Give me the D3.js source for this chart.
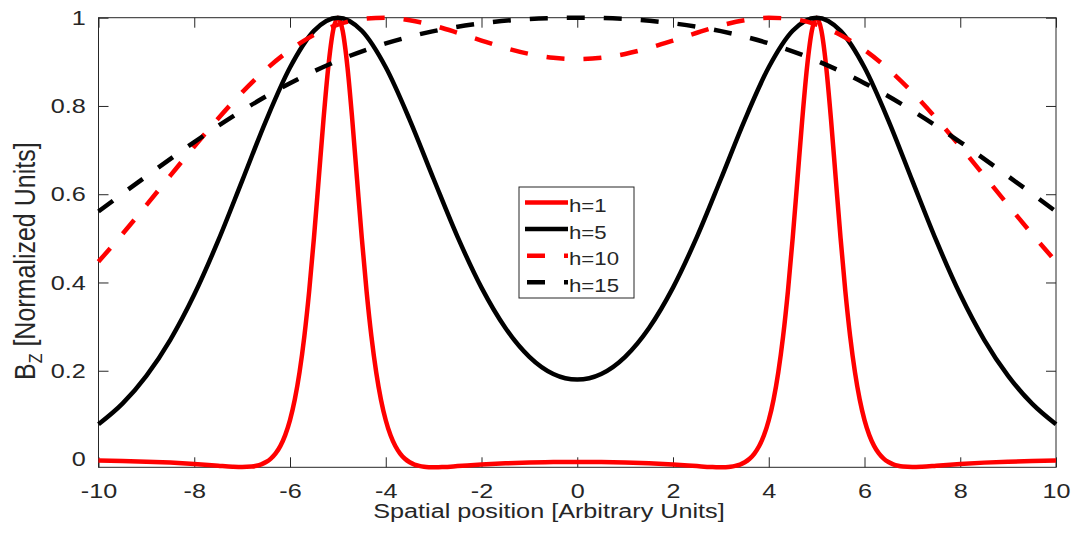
<!DOCTYPE html>
<html lang="en">
<head>
    <meta charset="UTF-8">
    <title>Bz vs spatial position</title>
    <script src="https://cdn.jsdelivr.net/npm/d3@7"></script>
    <style>
        body { margin: 0; background: #fff; }
        svg { display: block; }
        text { font-family: "Liberation Sans", Arial, Helvetica, sans-serif; fill: #262626; }
        .tick line { stroke: #262626; stroke-width: 1; }
    </style>
</head>
<body>
<script>
    // sample positions (arbitrary units)
    const xFine = [-10, -9.5, -9, -8.5, -8, -7.5, -7.2, -7, -6.8, -6.7, -6.6, -6.5, -6.4, -6.3, -6.2, -6.1,
        -6, -5.9, -5.8, -5.7, -5.6, -5.5, -5.4, -5.3, -5.2, -5.1,
        -5, -4.9, -4.8, -4.7, -4.6, -4.5, -4.4, -4.3, -4.2, -4.1,
        -4, -3.9, -3.8, -3.7, -3.6, -3.5, -3.4, -3.3, -3.2, -3.1,
        -3, -2.9, -2.8, -2.5, -2, -1.5, -1, -0.5, 0,
        0.5, 1, 1.5, 2, 2.5, 2.8, 2.9, 3, 3.1, 3.2, 3.3, 3.4, 3.5, 3.6, 3.7, 3.8, 3.9,
        4, 4.1, 4.2, 4.3, 4.4, 4.5, 4.6, 4.7, 4.8, 4.9,
        5, 5.1, 5.2, 5.3, 5.4, 5.5, 5.6, 5.7, 5.8, 5.9,
        6, 6.1, 6.2, 6.3, 6.4, 6.5, 6.6, 6.7, 6.8, 7, 7.2, 7.5, 8, 8.5, 9, 9.5, 10];
    const xHalf = [-10, -9.5, -9, -8.5, -8, -7.5, -7, -6.5, -6, -5.5, -5, -4.5, -4, -3.5, -3, -2.5, -2, -1.5, -1, -0.5,
        0, 0.5, 1, 1.5, 2, 2.5, 3, 3.5, 4, 4.5, 5, 5.5, 6, 6.5, 7, 7.5, 8, 8.5, 9, 9.5, 10];
    const xUnit = [-10, -9, -8, -7, -6, -5, -4, -3, -2, -1, 0, 1, 2, 3, 4, 5, 6, 7, 8, 9, 10];

    // normalized Bz
    const bzH1 = [-0.0035, -0.0045, -0.0061, -0.0082, -0.0113, -0.0153, -0.0175, -0.0182,
        -0.0171, -0.0152, -0.0120, -0.0069, 0.0010, 0.0127, 0.0298, 0.0541,
        0.0881, 0.1347, 0.1972, 0.2784, 0.3799, 0.5008, 0.6348, 0.7699, 0.8885, 0.9706,
        1.0000, 0.9705, 0.8884, 0.7697, 0.6346, 0.5006, 0.3797, 0.2781, 0.1969, 0.1344,
        0.0878, 0.0537, 0.0294, 0.0123, 0.0005, -0.0074, -0.0126, -0.0157, -0.0176, -0.0185,
        -0.0188, -0.0187, -0.0182, -0.0161, -0.0124, -0.0097, -0.0079, -0.0070, -0.0067,
        -0.0070, -0.0079, -0.0097, -0.0124, -0.0161, -0.0182, -0.0187, -0.0188, -0.0185, -0.0176,
        -0.0157, -0.0126, -0.0074, 0.0005, 0.0123, 0.0294, 0.0537,
        0.0878, 0.1344, 0.1969, 0.2781, 0.3797, 0.5006, 0.6346, 0.7697, 0.8884, 0.9705,
        1.0000, 0.9706, 0.8885, 0.7699, 0.6348, 0.5008, 0.3799, 0.2784, 0.1972, 0.1347,
        0.0881, 0.0541, 0.0298, 0.0127, 0.0010, -0.0069, -0.0120, -0.0152, -0.0171,
        -0.0182, -0.0175, -0.0153, -0.0113, -0.0082, -0.0061, -0.0045, -0.0035];
    const bzH5 = [0.0787, 0.1254, 0.1883, 0.2701, 0.3726, 0.4947, 0.6303, 0.7670, 0.8871, 0.9702,
        1.0000, 0.9703, 0.8876, 0.7687, 0.6345, 0.5033, 0.3884, 0.2970, 0.2317, 0.1928, 0.1800,
        0.1928, 0.2317, 0.2970, 0.3884, 0.5033, 0.6345, 0.7687, 0.8876, 0.9703, 1.0000,
        0.9702, 0.8871, 0.7670, 0.6303, 0.4947, 0.3726, 0.2701, 0.1883, 0.1254, 0.0787];
    const bzH10 = [0.4471, 0.5099, 0.5753, 0.6420, 0.7081, 0.7717, 0.8307, 0.8831, 0.9269, 0.9609,
        0.9843, 0.9970, 0.9998, 0.9942, 0.9822, 0.9659, 0.9482, 0.9315, 0.9179, 0.9090, 0.9060,
        0.9090, 0.9179, 0.9315, 0.9482, 0.9659, 0.9822, 0.9942, 0.9998, 0.9970, 0.9843,
        0.9609, 0.9269, 0.8831, 0.8307, 0.7717, 0.7081, 0.6420, 0.5753, 0.5099, 0.4471];
    const bzH15 = [0.5609, 0.6408, 0.7182, 0.7894, 0.8516, 0.9027, 0.9418, 0.9695, 0.9873, 0.9970,
        1.0000, 0.9970, 0.9873, 0.9695, 0.9418, 0.9027, 0.8516, 0.7894, 0.7182, 0.6408, 0.5609];

    const xTicks = [-10, -8, -6, -4, -2, 0, 2, 4, 6, 8, 10];
    const yTicks = [0, 0.2, 0.4, 0.6, 0.8, 1];
    const labels = ["h=1", "h=5", "h=10", "h=15"];

    const width = 1071, height = 533;
    const sx = 1.2; // the figure's text is stretched horizontally

    const series = [
        { xs: xFine, ys: bzH1, color: "#ff0000", dashed: false },
        { xs: xHalf, ys: bzH5, color: "#000000", dashed: false },
        { xs: xHalf, ys: bzH10, color: "#ff0000", dashed: true },
        { xs: xUnit, ys: bzH15, color: "#000000", dashed: true }
    ].map((s, i) => ({ ...s, label: labels[i] }));

    const svg = d3.select("body").append("svg")
        .attr("width", width)
        .attr("height", height);

    const x = d3.scaleLinear().domain([-10, 10]).range([98.5, 1056]);
    const y = d3.scaleLinear().domain([-0.0188, 1]).range([467.3, 17.7]);

    // plain hyphen, as in the figure
    const fmt = d => String(+(+d).toFixed(1));

    // axes, ticks pointing inward on all four sides
    const gx = svg.append("g")
        .attr("transform", `translate(0,${y.range()[0]})`)
        .call(d3.axisBottom(x).tickValues(xTicks).tickSize(-10).tickSizeOuter(0).tickFormat(fmt));
    gx.selectAll("text")
        .attr("y", 30.5).attr("dy", null)
        .attr("transform", `scale(${sx},1)`)
        .style("font-size", "21px");

    const gy = svg.append("g")
        .attr("transform", `translate(${x.range()[0]},0)`)
        .call(d3.axisLeft(y).tickValues(yTicks).tickSize(-10).tickSizeOuter(0).tickFormat(fmt));
    gy.selectAll("text")
        .attr("x", -12.8 / sx)
        .attr("transform", `scale(${sx},1)`)
        .style("font-size", "21px");

    svg.append("g")
        .attr("transform", `translate(0,${y.range()[1]})`)
        .call(d3.axisTop(x).tickValues(xTicks).tickSize(-10).tickSizeOuter(0).tickFormat(""));
    svg.append("g")
        .attr("transform", `translate(${x.range()[1]},0)`)
        .call(d3.axisRight(y).tickValues(yTicks).tickSize(-10).tickSizeOuter(0).tickFormat(""));

    svg.selectAll(".domain").remove();

    svg.append("rect")
        .attr("x", x.range()[0])
        .attr("y", y.range()[1])
        .attr("width", x.range()[1] - x.range()[0])
        .attr("height", y.range()[0] - y.range()[1])
        .attr("fill", "none")
        .attr("stroke", "#262626")
        .attr("stroke-width", 1);

    // curves
    const line = d3.line()
        .x(d => x(d[0]))
        .y(d => y(d[1]))
        .curve(d3.curveMonotoneX);

    svg.append("g").selectAll("path")
        .data(series)
        .enter().append("path")
        .attr("d", s => line(s.xs.map((v, i) => [v, s.ys[i]])))
        .attr("fill", "none")
        .attr("stroke", s => s.color)
        .attr("stroke-width", 4.5)
        .attr("stroke-dasharray", s => s.dashed ? "18,19" : null);

    // axis labels
    svg.append("text")
        .attr("transform", `translate(549,517.5) scale(${sx},1)`)
        .attr("text-anchor", "middle")
        .style("font-size", "21px")
        .text("Spatial position [Arbitrary Units]");

    const yl = svg.append("text")
        .attr("transform", `translate(35,380) scale(${sx},1) rotate(-90)`)
        .style("font-size", "25px");
    yl.append("tspan").text("B");
    yl.append("tspan").attr("dy", 6).style("font-size", "16px").text("Z");
    yl.append("tspan").attr("dy", -6).text(" [Normalized Units]");

    // legend
    const legend = svg.append("g");
    legend.append("rect")
        .attr("x", 519).attr("y", 187)
        .attr("width", 115).attr("height", 111)
        .attr("fill", "#fff")
        .attr("stroke", "#262626")
        .attr("stroke-width", 1);

    const rows = legend.selectAll("g.row")
        .data(series)
        .enter().append("g")
        .attr("class", "row")
        .attr("transform", (d, i) => `translate(0,${202.5 + i * 26.6})`);

    rows.append("line")
        .attr("x1", d => d.dashed ? 527 : 525)
        .attr("x2", 568)
        .attr("stroke", d => d.color)
        .attr("stroke-width", 4.5)
        .attr("stroke-dasharray", d => d.dashed ? "18,19" : null);

    rows.append("text")
        .attr("transform", `translate(569,9.5) scale(${sx},1)`)
        .style("font-size", "18.5px")
        .text(d => d.label);
</script>
</body>
</html>
